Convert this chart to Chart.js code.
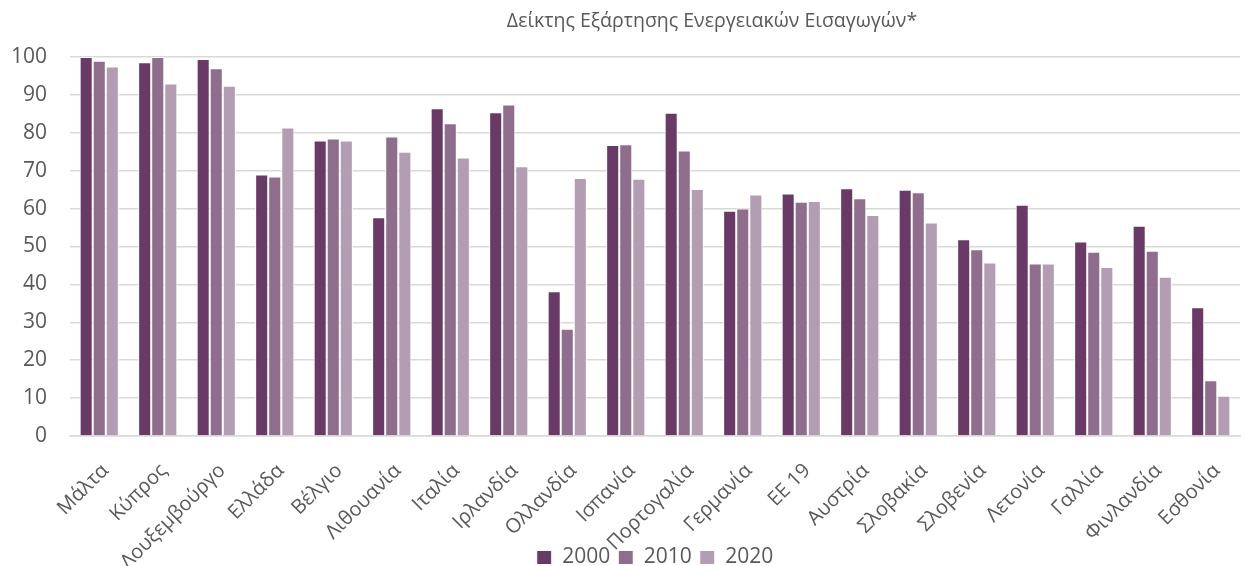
<!DOCTYPE html>
<html>
<head>
<meta charset="utf-8">
<script src="https://cdn.jsdelivr.net/npm/chart.js@4"></script>
<style>
  html, body { margin: 0; padding: 0; background: #fff; }
  #wrap { width: 1245px; height: 566px; }
</style>
</head>
<body>
<div id="wrap"><canvas id="myChart"></canvas></div>
<script>
const countries = [
  "Μάλτα", "Κύπρος", "Λουξεμβούργο", "Ελλάδα", "Βέλγιο",
  "Λιθουανία", "Ιταλία", "Ιρλανδία", "Ολλανδία", "Ισπανία",
  "Πορτογαλία", "Γερμανία", "ΕΕ 19", "Αυστρία", "Σλοβακία",
  "Σλοβενία", "Λετονία", "Γαλλία", "Φινλανδία", "Εσθονία",
];
const years = ["2000", "2010", "2020"];
const values2000 = [100, 98.6, 99.5, 69, 78, 57.7, 86.5, 85.4, 38.2, 76.8, 85.3, 59.4, 64, 65.4, 65, 51.9, 61, 51.3, 55.5, 34];
const values2010 = [99, 100, 97, 68.5, 78.5, 79, 82.5, 87.5, 28.3, 77, 75.3, 60, 61.8, 62.7, 64.3, 49.3, 45.5, 48.6, 48.9, 14.7];
const values2020 = [97.5, 93, 92.4, 81.4, 78, 75, 73.5, 71.2, 68.1, 67.9, 65.2, 63.7, 62, 58.3, 56.3, 45.8, 45.5, 44.6, 42, 10.6];
const yTicks = [0, 10, 20, 30, 40, 50, 60, 70, 80, 90, 100];
const chartTitle = "Δείκτης Εξάρτησης Ενεργειακών Εισαγωγών*";

const colors = ["#6a3a66", "#8e6e8c", "#b39db3"];
const font = "'Open Sans', 'DejaVu Sans', sans-serif";

// title sits a bit right of centre in the original, so draw it by hand
const titlePlugin = {
  id: "offsetTitle",
  afterDraw(chart) {
    const c = chart.ctx;
    c.save();
    c.font = "19.5px " + font;
    c.fillStyle = "#595959";
    c.textAlign = "center";
    c.textBaseline = "middle";
    c.fillText(chartTitle, 712, 21);
    c.restore();
  },
};

let ctx = document.getElementById("myChart").getContext("2d");

let barChart = new Chart(ctx, {
  type: "bar",
  data: {
    labels: countries,
    datasets: [values2000, values2010, values2020].map((d, i) => ({
      label: years[i],
      data: d,
      backgroundColor: colors[i],
      borderColor: "#ffffff",
      borderWidth: 1,
      categoryPercentage: 0.67,
      barPercentage: 1,
    })),
  },
  plugins: [titlePlugin],
  options: {
    responsive: true,
    maintainAspectRatio: false,
    animation: false,
    layout: { padding: { left: 12, right: 5, top: 57, bottom: -12 } },
    scales: {
      y: {
        min: 0,
        max: 100,
        afterBuildTicks: (axis) => { axis.ticks = yTicks.map((v) => ({ value: v })); },
        afterFit: (scale) => { scale.width = 58; },
        grid: { color: "#d9d9d9", lineWidth: 1.5, drawTicks: false },
        border: { display: false },
        ticks: { color: "#595959", font: { family: font, size: 21 }, padding: 23 },
      },
      x: {
        grid: { display: false },
        border: { color: "#d9d9d9", width: 1.5 },
        afterFit: (scale) => {
          scale.height = 103;
          scale.paddingLeft = 0;
          scale.paddingRight = 0;
          // long labels run under the legend like in the original, don't clip them
          scale._computeLabelArea = () => undefined;
        },
        ticks: {
          color: "#595959",
          font: { family: font, size: 20 },
          minRotation: 45,
          maxRotation: 45,
          autoSkip: false,
          padding: 15,
          labelOffset: 6,
        },
      },
    },
    plugins: {
      title: { display: false },
      legend: {
        position: "bottom",
        fullSize: false,
        labels: {
          color: "#595959",
          font: { family: font, size: 21 },
          boxWidth: 15,
          boxHeight: 14,
          padding: 8,
        },
      },
      tooltip: { enabled: false },
    },
  },
});
</script>
</body>
</html>
